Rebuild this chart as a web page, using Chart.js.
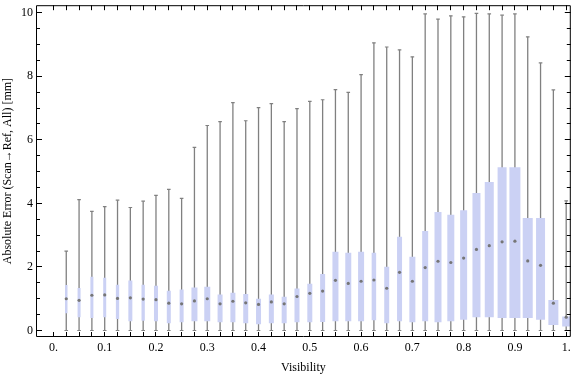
<!DOCTYPE html>
<html>
<head>
<meta charset="utf-8">
<style>
  html, body { margin: 0; padding: 0; background: #fff; }
</style>
</head>
<body>
<canvas id="box-chart" width="576" height="377"></canvas>
<script src="https://cdn.jsdelivr.net/npm/chart.js"></script>
<script>
    // data
    var visibility = [0.025, 0.05, 0.075, 0.1, 0.125, 0.15, 0.175, 0.2, 0.225, 0.25,
                      0.275, 0.3, 0.325, 0.35, 0.375, 0.4, 0.425, 0.45, 0.475, 0.5,
                      0.525, 0.55, 0.575, 0.6, 0.625, 0.65, 0.675, 0.7, 0.725, 0.75,
                      0.775, 0.8, 0.825, 0.85, 0.875, 0.9, 0.925, 0.95, 0.975, 1.0];
    var whiskerLow = [0, 0, 0, 0, 0, 0, 0, 0, 0, 0,
                      0, 0, 0, 0, 0, 0, 0, 0, 0, 0,
                      0, 0, 0, 0, 0, 0, 0, 0, 0, 0,
                      0, 0, 0, 0, 0, 0, 0, 0, 0, 0];
    var whiskerHigh = [2.5, 4.12, 3.75, 3.9, 4.1, 3.87, 4.07, 4.25, 4.44, 4.16,
                       5.76, 6.45, 6.57, 7.17, 6.6, 7.01, 7.14, 6.57, 6.98, 7.21,
                       7.26, 7.58, 7.49, 8.05, 9.05, 8.92, 8.83, 8.61, 9.96, 9.8,
                       9.9, 9.87, 9.98, 9.96, 9.92, 9.96, 9.24, 8.42, 7.57, 4.08];
    var lowerQuartile = [0.54, 0.42, 0.39, 0.42, 0.36, 0.29, 0.31, 0.29, 0.23, 0.26,
                         0.29, 0.29, 0.26, 0.26, 0.23, 0.2, 0.23, 0.23, 0.26, 0.26,
                         0.27, 0.29, 0.29, 0.29, 0.32, 0.23, 0.29, 0.26, 0.29, 0.26,
                         0.29, 0.34, 0.42, 0.42, 0.39, 0.39, 0.39, 0.34, 0.17, 0.13];
    var medians = [1.0, 0.95, 1.11, 1.12, 1.01, 1.03, 0.99, 0.97, 0.86, 0.84,
                   0.93, 1.0, 0.84, 0.92, 0.87, 0.82, 0.9, 0.84, 1.07, 1.17,
                   1.24, 1.58, 1.48, 1.55, 1.59, 1.33, 1.83, 1.55, 1.98, 2.18,
                   2.14, 2.28, 2.55, 2.67, 2.79, 2.81, 2.19, 2.05, 0.86, 0.42];
    var upperQuartile = [1.43, 1.34, 1.69, 1.66, 1.44, 1.57, 1.44, 1.41, 1.25, 1.29,
                         1.35, 1.38, 1.13, 1.19, 1.15, 1.0, 1.13, 1.06, 1.32, 1.47,
                         1.78, 2.48, 2.45, 2.48, 2.45, 2.01, 2.95, 2.32, 3.13, 3.73,
                         3.64, 3.78, 4.33, 4.67, 5.14, 5.14, 3.54, 3.54, 0.96, 0.44];

    var xTickValues = [0, 0.1, 0.2, 0.3, 0.4, 0.5, 0.6, 0.7, 0.8, 0.9, 1];
    var xTickLabels = ['0.', '0.1', '0.2', '0.3', '0.4', '0.5', '0.6', '0.7', '0.8', '0.9', '1.'];
    var yTickValues = [0, 2, 4, 6, 8, 10];
    var yTickLabels = ['0', '2', '4', '6', '8', '10'];

    // box widths in px (style, as drawn in the picture)
    var boxWidths = [2.5, 3, 3, 3, 3.3, 4, 3.3, 4, 4, 4,
                     6, 6, 5, 5, 5, 5, 5, 5, 5, 5,
                     5, 6, 6, 6, 4.5, 5, 5, 6, 6, 7,
                     7, 7, 8, 9, 9, 11, 10, 9, 10, 8];

    var serif = "'Liberation Serif', 'Times New Roman', serif";
    var grayLine = '#808080';
    var boxFill = '#cbd1f4';

    var datasets = [];

    // whiskers
    datasets.push({
        type: 'bar',
        order: 3,
        data: visibility.map(function(v, i) { return {x: v, y: [whiskerLow[i], whiskerHigh[i]]}; }),
        backgroundColor: grayLine,
        barThickness: 1.3,
        grouped: false,
        inflateAmount: 0
    });

    // whisker caps
    var caps = [];
    visibility.forEach(function(v, i) {
        caps.push({x: v, y: whiskerLow[i]});
        caps.push({x: v, y: whiskerHigh[i]});
    });
    datasets.push({
        type: 'scatter',
        order: 1,
        data: caps,
        showLine: false,
        pointStyle: 'line',
        pointRadius: 1.8,
        pointBorderColor: grayLine,
        pointBorderWidth: 1.2
    });

    // boxes, one dataset each so widths can differ
    visibility.forEach(function(v, i) {
        datasets.push({
            type: 'bar',
            order: 2,
            data: [{x: v, y: [lowerQuartile[i], upperQuartile[i]]}],
            backgroundColor: boxFill,
            barThickness: boxWidths[i],
            grouped: false,
            inflateAmount: 0
        });
    });

    // medians
    datasets.push({
        type: 'scatter',
        order: 0,
        data: visibility.map(function(v, i) { return {x: v, y: medians[i]}; }),
        showLine: false,
        pointStyle: 'circle',
        pointRadius: 1.6,
        pointBackgroundColor: '#767676',
        pointBorderWidth: 0
    });

    // frame with inward ticks, like the original
    var frameTicks = {
        id: 'frameTicks',
        afterDraw: function(chart) {
            var ctx = chart.ctx, a = chart.chartArea;
            var xs = chart.scales.x, ys = chart.scales.y;
            ctx.save();
            ctx.strokeStyle = '#000';
            ctx.lineWidth = 1;
            ctx.beginPath();
            ctx.rect(a.left + 0.5, a.top + 0.5, a.right - a.left - 1, a.bottom - a.top - 1);
            for (var t = 0; t <= 40; t++) {
                var px = Math.floor(xs.getPixelForValue(t * 0.025)) + 0.5;
                ctx.moveTo(px, a.bottom);
                ctx.lineTo(px, a.bottom - 5);
                ctx.moveTo(px, a.top);
                ctx.lineTo(px, a.top + 5);
            }
            for (var k = 0; k <= 20; k++) {
                var py = Math.floor(ys.getPixelForValue(k * 0.5)) + 0.5;
                var len = (k % 4 === 0) ? 6 : 4;
                ctx.moveTo(a.left, py);
                ctx.lineTo(a.left + len, py);
                ctx.moveTo(a.right, py);
                ctx.lineTo(a.right - len, py);
            }
            ctx.stroke();
            ctx.restore();
        }
    };

    var ctx = document.getElementById('box-chart').getContext('2d');
    var myChart = new Chart(ctx, {
        type: 'bar',
        data: { datasets: datasets },
        options: {
            responsive: false,
            animation: false,
            events: [],
            layout: { padding: { top: 4, right: 0, left: 0, bottom: 0 } },
            plugins: {
                legend: { display: false },
                tooltip: { enabled: false }
            },
            scales: {
                x: {
                    type: 'linear',
                    min: -0.034,
                    max: 1.009,
                    offset: false,
                    grid: { display: false, drawTicks: false },
                    border: { display: false },
                    afterBuildTicks: function(s) {
                        s.ticks = xTickValues.map(function(v) { return {value: v}; });
                    },
                    ticks: {
                        autoSkip: false,
                        maxRotation: 0,
                        padding: 4,
                        color: '#000',
                        font: { family: serif, size: 12 },
                        callback: function(v, i) { return xTickLabels[i]; }
                    },
                    title: {
                        display: true,
                        text: 'Visibility',
                        color: '#000',
                        font: { family: serif, size: 12 },
                        padding: { top: 0, bottom: 2 }
                    },
                    afterFit: function(s) {
                        s.height = 40;
                        s.paddingLeft = 0;
                        s.paddingRight = 0;
                    }
                },
                y: {
                    type: 'linear',
                    min: -0.204,
                    max: 10.235,
                    grid: { display: false, drawTicks: false },
                    border: { display: false },
                    afterBuildTicks: function(s) {
                        s.ticks = yTickValues.map(function(v) { return {value: v}; });
                    },
                    ticks: {
                        padding: 3,
                        color: '#000',
                        font: { family: serif, size: 12 },
                        callback: function(v, i) { return yTickLabels[i]; }
                    },
                    title: {
                        display: true,
                        text: 'Absolute Error (Scan\u2192Ref, All) [mm]',
                        color: '#000',
                        font: { family: serif, size: 12 },
                        padding: { top: 1, bottom: 0 }
                    },
                    afterFit: function(s) {
                        s.width = 36;
                        s.paddingTop = 0;
                        s.paddingBottom = 0;
                    }
                }
            }
        },
        plugins: [frameTicks]
    });
</script>
</body>
</html>
